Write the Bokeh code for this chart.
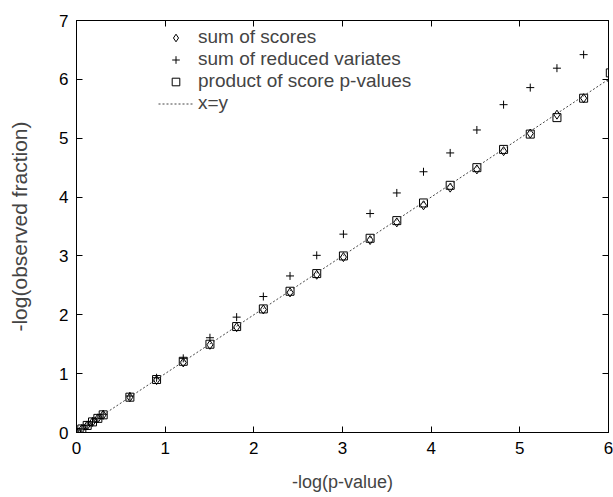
from bokeh.plotting import figure
from bokeh.models import Legend, LegendItem, LinearAxis, Range1d, FixedTicker
from bokeh.embed import file_html
from bokeh.resources import INLINE

# -log(p-value) thresholds
neglog_p = [0.0, 0.0602, 0.1204, 0.1806, 0.2408, 0.3010, 0.6021, 0.9031,
            1.2041, 1.5051, 1.8062, 2.1072, 2.4082, 2.7093, 3.0103, 3.3113,
            3.6124, 3.9134, 4.2144, 4.5154, 4.8165, 5.1175, 5.4185, 5.7196,
            6.0206]

# -log(observed fraction) for each method
sum_of_scores = [0.0, 0.06, 0.12, 0.18, 0.24, 0.30, 0.60, 0.89, 1.19, 1.49,
                 1.79, 2.09, 2.38, 2.68, 2.98, 3.27, 3.57, 3.86, 4.16, 4.47,
                 4.78, 5.08, 5.40, 5.68, 5.98]
sum_of_reduced_variates = [0.0, 0.06, 0.12, 0.18, 0.24, 0.31, 0.62, 0.93,
                           1.26, 1.61, 1.96, 2.31, 2.66, 3.01, 3.37, 3.72,
                           4.07, 4.43, 4.75, 5.14, 5.57, 5.86, 6.19, 6.42]
product_of_score_pvalues = [0.0, 0.06, 0.12, 0.18, 0.24, 0.30, 0.60, 0.90,
                            1.21, 1.50, 1.80, 2.10, 2.40, 2.70, 3.00, 3.30,
                            3.60, 3.90, 4.20, 4.50, 4.81, 5.07, 5.35, 5.68,
                            6.11]
identity_line = [0.0, 6.0]

x_ticks = [0, 1, 2, 3, 4, 5, 6]
y_ticks = [0, 1, 2, 3, 4, 5, 6, 7]

FONT = "Liberation Sans"

p = figure(width=613, height=497, output_backend="svg", toolbar_location=None,
           x_range=Range1d(0, 6), y_range=Range1d(0, 7),
           min_border_left=76, min_border_right=5, min_border_top=20,
           min_border_bottom=65)
p.grid.visible = False
p.outline_line_color = "black"
p.outline_line_width = 1
p.background_fill_color = "white"
p.border_fill_color = "white"


def style_axis(ax, show_labels=True):
    ax.axis_line_color = "black"
    ax.major_tick_line_color = "black"
    ax.major_tick_in = 6
    ax.major_tick_out = 0
    ax.minor_tick_line_color = None
    ax.major_label_text_font = FONT
    ax.major_label_text_color = "black"
    ax.major_label_text_font_size = "17px"
    if not show_labels:
        ax.major_label_text_color = None
        ax.major_label_text_font_size = "1px"
        ax.major_label_standoff = 0


xa = p.xaxis[0]
xa.ticker = FixedTicker(ticks=x_ticks)
style_axis(xa)
xa.major_label_standoff = 9
xa.axis_label = "-log(p-value)"
xa.axis_label_text_font = FONT
xa.axis_label_text_font_style = "normal"
xa.axis_label_text_font_size = "18px"
xa.axis_label_standoff = 15

ya = p.yaxis[0]
ya.ticker = FixedTicker(ticks=y_ticks)
style_axis(ya)
ya.major_label_standoff = 8
ya.axis_label = "-log(observed fraction)"
ya.axis_label_text_font = FONT
ya.axis_label_text_font_style = "normal"
ya.axis_label_text_font_size = "21px"
ya.axis_label_standoff = 25

top = LinearAxis(ticker=FixedTicker(ticks=x_ticks))
style_axis(top, show_labels=False)
p.add_layout(top, "above")
right = LinearAxis(ticker=FixedTicker(ticks=y_ticks))
style_axis(right, show_labels=False)
p.add_layout(right, "right")

r_diamond = p.scatter(neglog_p, sum_of_scores, marker="diamond", size=9,
                      fill_color=None, line_color="black", line_width=1)
r_plus = p.scatter(neglog_p[:len(sum_of_reduced_variates)], sum_of_reduced_variates,
                   marker="cross", size=8, line_color="black", line_width=1)
r_square = p.scatter(neglog_p, product_of_score_pvalues, marker="square", size=8,
                     fill_color=None, line_color="black", line_width=1)
r_line = p.line(identity_line, identity_line, line_color="#444444", line_width=1,
                line_dash="2 2")

legend = Legend(items=[
    LegendItem(label="sum of scores", renderers=[r_diamond]),
    LegendItem(label="sum of reduced variates", renderers=[r_plus]),
    LegendItem(label="product of score p-values", renderers=[r_square]),
    LegendItem(label="x=y", renderers=[r_line]),
], location=(80, 316))
legend.background_fill_alpha = 0
legend.border_line_alpha = 0
legend.label_text_font = FONT
legend.label_text_font_size = "19px"
legend.glyph_height = 19
legend.label_height = 19
legend.glyph_width = 35
legend.spacing = 0
legend.padding = 2
legend.margin = 0
p.add_layout(legend, "center")

open("out.html", "w").write(file_html(p, INLINE))
